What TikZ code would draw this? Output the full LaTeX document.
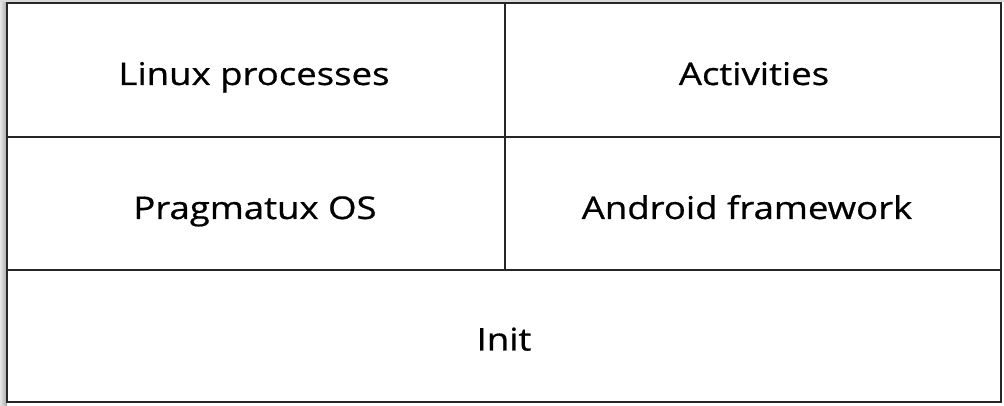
\documentclass[tikz,border=0pt]{standalone}
\usepackage{fontspec}
\setmainfont{Open Sans}[FakeBold=0.6]
\newcommand{\wide}[1]{\scalebox{1.166}[1]{#1}}
\begin{document}
\begin{tikzpicture}[x=0.75pt,y=-0.75pt,
  cell/.style={font=\fontsize{23.5}{28}\selectfont, text=black, anchor=base, inner sep=0pt},
  rule/.style={draw=black!85, line width=2.2pt}]
\useasboundingbox (0,0) rectangle (1004,406);
\fill[white] (0,0) rectangle (1004,406);
\shade[left color=black!10, right color=black!35] (0,0) rectangle (7,406);
\fill[black!15] (0,0) rectangle (1004,2);
\coordinate (tl) at (7,3);
\coordinate (br) at (1001,402);
\draw[rule] (tl) rectangle (br);
\coordinate (v1) at (505,3);
\coordinate (v2) at (505,270);
\coordinate (h1l) at (7,137);
\coordinate (h1r) at (1001,137);
\coordinate (h2l) at (7,270);
\coordinate (h2r) at (1001,270);
\draw[rule] (v1) -- (v2);
\draw[rule] (h1l) -- (h1r);
\draw[rule] (h2l) -- (h2r);
\node[cell] (lp) at (254,85) {\wide{Linux processes}};
\node[cell] (act) at (754,85) {\wide{Activities}};
\node[cell] (pos) at (255,219) {\wide{Pragmatux OS}};
\node[cell] (af) at (747,219) {\wide{Android framework}};
\node[cell] (init) at (504,350.5) {\wide{Init}};
\end{tikzpicture}
\end{document}
